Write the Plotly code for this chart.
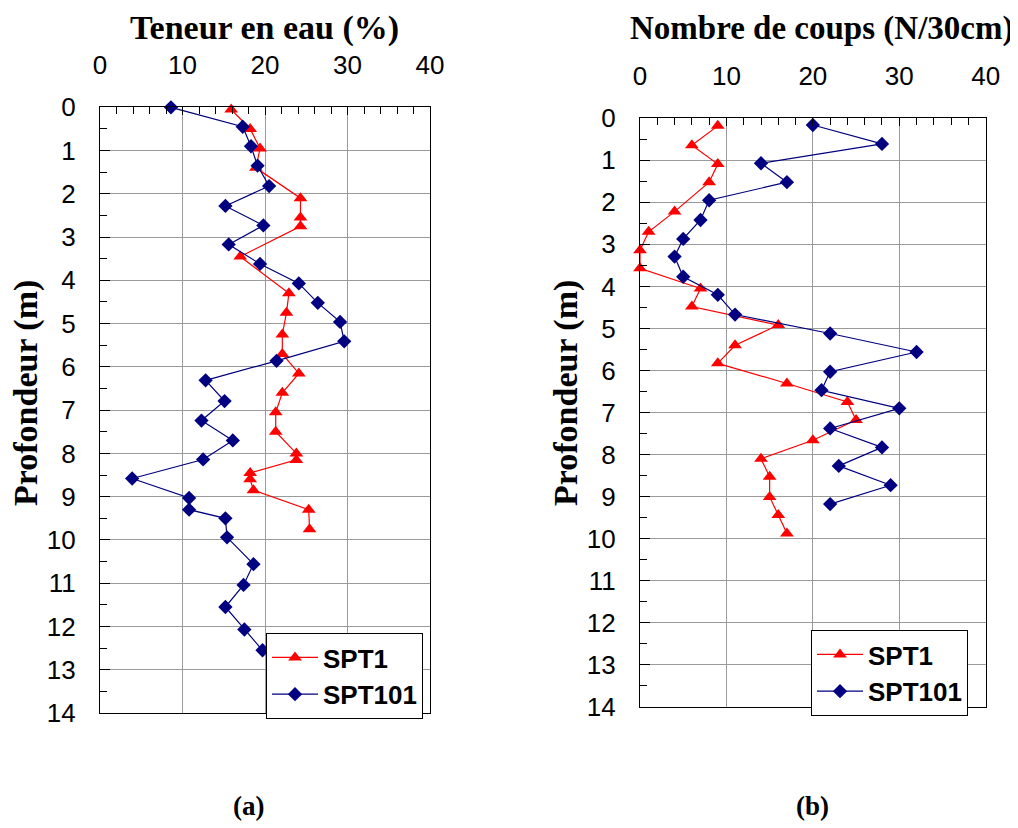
import plotly.graph_objects as go

# ---------------- data ----------------
# (a) Teneur en eau (%)
depth_a_spt1 = [0.05, 0.5, 0.95, 1.4, 2.1, 2.55, 2.75, 3.45, 4.3, 4.75, 5.25, 5.7,
                6.15, 6.6, 7.05, 7.5, 8.0, 8.15, 8.45, 8.6, 8.85, 9.3, 9.75]
w_spt1 = [15.9, 18.2, 19.4, 18.9, 24.3, 24.3, 24.3, 17.0, 22.9, 22.6, 22.1, 22.1,
          24.1, 22.1, 21.3, 21.3, 23.8, 23.8, 18.2, 18.2, 18.6, 25.3, 25.4]

depth_a_spt101 = [0.0, 0.45, 0.9, 1.35, 1.82, 2.28, 2.73, 3.17, 3.62, 4.07, 4.52, 4.96,
                  5.41, 5.86, 6.31, 6.79, 7.24, 7.7, 8.14, 8.58, 9.03, 9.3, 9.5, 9.94,
                  10.56, 11.04, 11.55, 12.07, 12.55]
w_spt101 = [8.6, 17.3, 18.3, 19.1, 20.5, 15.2, 19.8, 15.6, 19.4, 24.1, 26.4, 29.1,
            29.6, 21.4, 12.8, 15.1, 12.3, 16.1, 12.5, 3.9, 10.8, 10.8, 15.2, 15.4,
            18.6, 17.4, 15.2, 17.5, 19.7]

# (b) Nombre de coups (N/30cm)
depth_b_spt1 = [0.18, 0.64, 1.09, 1.52, 2.22, 2.7, 3.14, 3.57, 4.05, 4.48, 4.92,
                5.4, 5.83, 6.31, 6.75, 7.18, 7.66, 8.1, 8.53, 9.01, 9.44, 9.88]
n_spt1 = [9, 6, 9, 8, 4, 1, 0, 0, 7, 6, 16, 11, 9, 17, 24, 25, 20, 14, 15, 15, 16, 17]

depth_b_spt101 = [0.16, 0.61, 1.07, 1.52, 1.95, 2.42, 2.87, 3.29, 3.77, 4.2, 4.67,
                  5.12, 5.56, 6.03, 6.47, 6.9, 7.38, 7.83, 8.27, 8.73, 9.18]
n_spt101 = [20, 28, 14, 17, 8, 7, 5, 4, 5, 9, 11, 22, 32, 22, 21, 30, 22, 28, 23, 29, 22]

x_ticks = [0, 10, 20, 30, 40]
y_ticks = list(range(0, 15))

# ---------------- figure ----------------
# page body has an 8px margin: figure is drawn at (8, 8) in the window
OFF = 8
W, H = 1010, 820
RED = "#FF0000"
NAVY = "#000080"


def px(x):
    return (x - OFF) / W


def py(y):
    return 1 - (y - OFF) / H


fig = go.Figure()


def add_pair(xa, ya, x1, y1, x2, y2, leg):
    fig.add_trace(go.Scatter(
        x=x1, y=y1, name="SPT1", mode="lines+markers", xaxis=xa, yaxis=ya,
        line=dict(color=RED, width=1.2),
        marker=dict(symbol="triangle-up", size=12, color=RED),
        cliponaxis=False, legend=leg))
    fig.add_trace(go.Scatter(
        x=x2, y=y2, name="SPT101", mode="lines+markers", xaxis=xa, yaxis=ya,
        line=dict(color=NAVY, width=1.2),
        marker=dict(symbol="diamond", size=11, color=NAVY),
        cliponaxis=False, legend=leg))


add_pair("x", "y", w_spt1, depth_a_spt1, w_spt101, depth_a_spt101, "legend")
add_pair("x2", "y2", n_spt1, depth_b_spt1, n_spt101, depth_b_spt101, "legend2")

tick_font = dict(family="Liberation Sans, Arial", size=26, color="black")


def xaxis(dom, anchor):
    return dict(domain=dom, anchor=anchor, side="top", range=[0, 40],
                tickvals=x_ticks, ticks="inside", ticklen=8, tickcolor="black",
                minor=dict(dtick=2, ticks="inside", ticklen=7, tickcolor="black", showgrid=False),
                showgrid=True, gridcolor="#9a9a9a", gridwidth=1,
                showline=True, linecolor="black", linewidth=1.2, mirror=True,
                tickfont=tick_font, ticklabelstandoff=22, zeroline=False,
                automargin=False)


def yaxis(dom, anchor):
    return dict(domain=dom, anchor=anchor, range=[14, 0],
                tickvals=y_ticks, ticks="inside", ticklen=10, tickcolor="black",
                minor=dict(dtick=0.5, ticks="inside", ticklen=7, tickcolor="black", showgrid=False),
                showgrid=True, gridcolor="#9a9a9a", gridwidth=1,
                showline=True, linecolor="black", linewidth=1.2, mirror=True,
                tickfont=tick_font, ticklabelstandoff=18, zeroline=False,
                automargin=False)


legend_font = dict(family="Liberation Sans, Arial", size=26, color="black", weight="bold")

fig.update_layout(
    width=W, height=H,
    margin=dict(l=0, r=0, t=0, b=0, autoexpand=False),
    paper_bgcolor="white", plot_bgcolor="white",
    xaxis=xaxis([px(100), px(430)], "y"),
    yaxis=yaxis([py(713), py(107.3)], "x"),
    xaxis2=xaxis([px(640), px(985.7)], "y2"),
    yaxis2=yaxis([py(706.7), py(118.3)], "x2"),
    legend=dict(x=px(266), y=py(633), xanchor="left", yanchor="top",
                bgcolor="white", bordercolor="black", borderwidth=1,
                font=legend_font, tracegroupgap=0, itemwidth=46),
    legend2=dict(x=px(811), y=py(630), xanchor="left", yanchor="top",
                 bgcolor="white", bordercolor="black", borderwidth=1,
                 font=legend_font, tracegroupgap=0, itemwidth=46),
    showlegend=True,
)

title_font = dict(family="Liberation Serif, Times New Roman, serif", size=34, color="black", weight="bold")


def ann(text, xp, yp, size=34, angle=0):
    f = dict(title_font)
    f["size"] = size
    fig.add_annotation(text=text, x=px(xp), y=py(yp), xref="paper", yref="paper",
                       showarrow=False, font=f, textangle=angle,
                       xanchor="center", yanchor="middle")


ann("Teneur en eau (%)", 264, 28, size=34)
ann("Nombre de coups (N/30cm)", 821, 28, size=33)
ann("Profondeur (m)", 26, 393, size=34, angle=-90)
ann("Profondeur (m)", 566, 393, size=34, angle=-90)
ann("(a)", 248, 806, size=27)
ann("(b)", 812, 806, size=27)

fig.write_html("out.html")
